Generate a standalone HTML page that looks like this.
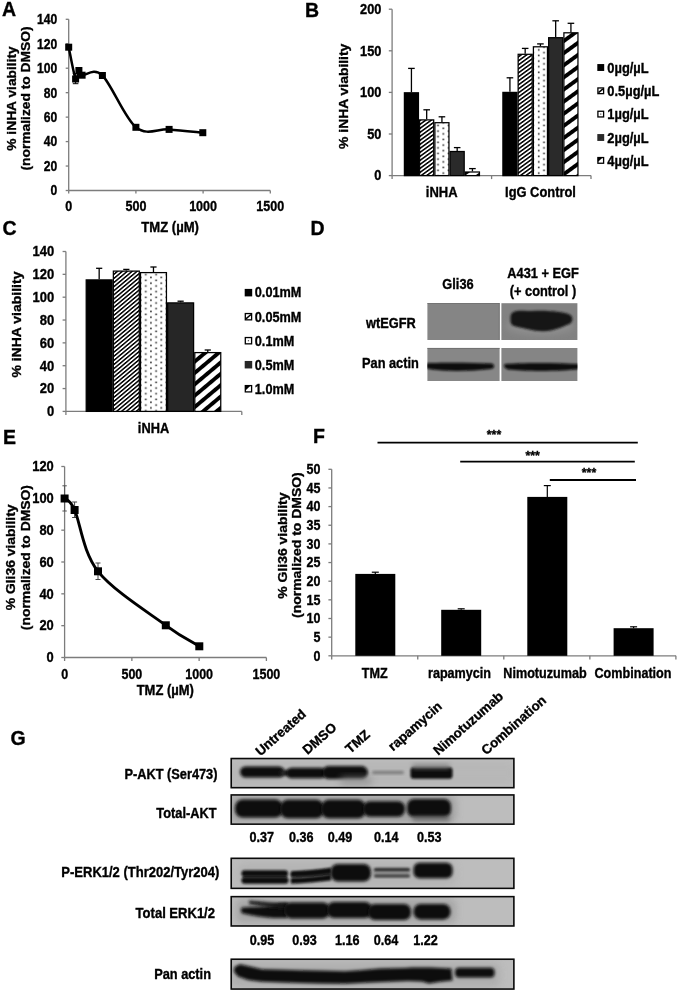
<!DOCTYPE html>
<html><head><meta charset="utf-8"><title>Figure</title>
<style>html,body{margin:0;padding:0;background:#fff}svg{display:block;opacity:0.999}</style>
</head><body>
<svg width="679" height="992" viewBox="0 0 679 992" font-family="Liberation Sans, sans-serif" font-weight="bold" fill="#000">
<style>text{stroke:#000;stroke-width:0.35px}</style>
<rect width="679" height="992" fill="#fff"/>
<defs>
<pattern id="fine" width="3.14" height="3.14" patternUnits="userSpaceOnUse" patternTransform="rotate(-40)">
<rect width="3.14" height="3.14" fill="#fff"/><rect y="0" width="3.14" height="1.5" fill="#000"/>
</pattern>
<pattern id="fineB" width="3.24" height="3.24" patternUnits="userSpaceOnUse" patternTransform="rotate(-36)">
<rect width="3.24" height="3.24" fill="#fff"/><rect y="0" width="3.24" height="1.55" fill="#000"/>
</pattern>
<pattern id="dots" width="10.3" height="5.67" patternUnits="userSpaceOnUse" x="0.3" y="1.2">
<rect width="10.3" height="5.67" fill="#fff"/><rect x="0.5" y="0.5" width="1.6" height="1.6" fill="#2e2e2e"/><rect x="5.65" y="3.33" width="1.6" height="1.6" fill="#2e2e2e"/>
</pattern>
<pattern id="dotsB" width="10.6" height="5.6" patternUnits="userSpaceOnUse" x="2.1" y="1.0">
<rect width="10.6" height="5.6" fill="#fff"/><rect x="0.5" y="0.5" width="1.6" height="1.6" fill="#2e2e2e"/><rect x="5.8" y="3.3" width="1.6" height="1.6" fill="#2e2e2e"/>
</pattern>
<pattern id="thick" width="8.7" height="8.7" patternUnits="userSpaceOnUse" patternTransform="rotate(-40)">
<rect width="8.7" height="8.7" fill="#fff"/><rect y="0" width="8.7" height="3.9" fill="#000"/>
</pattern>
<pattern id="thickB" width="9.8" height="9.8" patternUnits="userSpaceOnUse" patternTransform="rotate(-36)">
<rect width="9.8" height="9.8" fill="#fff"/><rect y="0" width="9.8" height="3.9" fill="#000"/>
</pattern>
<filter id="b1" x="-20%" y="-50%" width="140%" height="200%"><feGaussianBlur stdDeviation="1"/></filter>
<filter id="b15" x="-20%" y="-50%" width="140%" height="200%"><feGaussianBlur stdDeviation="1.5"/></filter>
<filter id="b2" x="-20%" y="-50%" width="140%" height="200%"><feGaussianBlur stdDeviation="2.2"/></filter>
<filter id="b3" x="-20%" y="-60%" width="140%" height="220%"><feGaussianBlur stdDeviation="3.5"/></filter>
</defs>
<text transform="translate(2.00 16.00) scale(0.93 1)" font-size="21.00" text-anchor="start" >A</text>
<text transform="translate(305.00 16.50) scale(0.93 1)" font-size="21.00" text-anchor="start" >B</text>
<text transform="translate(2.50 235.00) scale(0.93 1)" font-size="21.00" text-anchor="start" >C</text>
<text transform="translate(310.50 234.50) scale(0.93 1)" font-size="21.00" text-anchor="start" >D</text>
<text transform="translate(3.00 443.50) scale(0.93 1)" font-size="21.00" text-anchor="start" >E</text>
<text transform="translate(313.00 443.00) scale(0.93 1)" font-size="21.00" text-anchor="start" >F</text>
<text transform="translate(10.50 744.50) scale(0.93 1)" font-size="21.00" text-anchor="start" >G</text>
<line x1="68.70" y1="19.30" x2="68.70" y2="190.50" stroke="#7c7c7c" stroke-width="1.3" />
<line x1="68.70" y1="190.50" x2="270.30" y2="190.50" stroke="#7c7c7c" stroke-width="1.3" />
<line x1="65.70" y1="190.50" x2="68.70" y2="190.50" stroke="#7c7c7c" stroke-width="1.3" />
<text transform="translate(57.30 195.40) scale(0.88 1)" font-size="13.80" text-anchor="end" >0</text>
<line x1="65.70" y1="166.04" x2="68.70" y2="166.04" stroke="#7c7c7c" stroke-width="1.3" />
<text transform="translate(57.30 170.94) scale(0.88 1)" font-size="13.80" text-anchor="end" >20</text>
<line x1="65.70" y1="141.59" x2="68.70" y2="141.59" stroke="#7c7c7c" stroke-width="1.3" />
<text transform="translate(57.30 146.49) scale(0.88 1)" font-size="13.80" text-anchor="end" >40</text>
<line x1="65.70" y1="117.13" x2="68.70" y2="117.13" stroke="#7c7c7c" stroke-width="1.3" />
<text transform="translate(57.30 122.03) scale(0.88 1)" font-size="13.80" text-anchor="end" >60</text>
<line x1="65.70" y1="92.67" x2="68.70" y2="92.67" stroke="#7c7c7c" stroke-width="1.3" />
<text transform="translate(57.30 97.57) scale(0.88 1)" font-size="13.80" text-anchor="end" >80</text>
<line x1="65.70" y1="68.21" x2="68.70" y2="68.21" stroke="#7c7c7c" stroke-width="1.3" />
<text transform="translate(57.30 73.11) scale(0.88 1)" font-size="13.80" text-anchor="end" >100</text>
<line x1="65.70" y1="43.76" x2="68.70" y2="43.76" stroke="#7c7c7c" stroke-width="1.3" />
<text transform="translate(57.30 48.66) scale(0.88 1)" font-size="13.80" text-anchor="end" >120</text>
<line x1="65.70" y1="19.30" x2="68.70" y2="19.30" stroke="#7c7c7c" stroke-width="1.3" />
<text transform="translate(57.30 24.20) scale(0.88 1)" font-size="13.80" text-anchor="end" >140</text>
<line x1="68.70" y1="190.50" x2="68.70" y2="193.50" stroke="#7c7c7c" stroke-width="1.3" />
<text transform="translate(68.70 211.20) scale(0.91 1)" font-size="13.80" text-anchor="middle" >0</text>
<line x1="135.90" y1="190.50" x2="135.90" y2="193.50" stroke="#7c7c7c" stroke-width="1.3" />
<text transform="translate(135.90 211.20) scale(0.91 1)" font-size="13.80" text-anchor="middle" >500</text>
<line x1="203.10" y1="190.50" x2="203.10" y2="193.50" stroke="#7c7c7c" stroke-width="1.3" />
<text transform="translate(203.10 211.20) scale(0.91 1)" font-size="13.80" text-anchor="middle" >1000</text>
<line x1="270.30" y1="190.50" x2="270.30" y2="193.50" stroke="#7c7c7c" stroke-width="1.3" />
<text transform="translate(270.30 211.20) scale(0.91 1)" font-size="13.80" text-anchor="middle" >1500</text>
<text transform="translate(170.10 231.50) scale(0.95 1)" font-size="13.80" text-anchor="middle" >TMZ (µM)</text>
<text transform="translate(15.60 98.50) scale(0.86 1) rotate(-90)" font-size="13.80" text-anchor="middle" >% iNHA viability</text>
<text transform="translate(30.10 98.50) scale(0.86 1) rotate(-90)" font-size="13.80" text-anchor="middle" >(normalized to DMSO)</text>
<line x1="75.60" y1="73.60" x2="75.60" y2="83.70" stroke="#000" stroke-width="1" />
<line x1="72.80" y1="73.60" x2="78.40" y2="73.60" stroke="#000" stroke-width="1" />
<line x1="72.80" y1="83.70" x2="78.40" y2="83.70" stroke="#000" stroke-width="1" />
<path d="M68.70,47.20 C69.85,52.50 73.90,75.12 75.60,79.00 C77.30,82.88 77.82,71.13 78.90,70.50 C79.98,69.87 78.18,74.37 82.10,75.20 C86.02,76.03 93.43,66.82 102.40,75.50 C111.37,84.18 124.78,118.32 135.90,127.30 C147.02,136.28 157.95,128.50 169.10,129.40 C180.25,130.30 197.18,132.15 202.80,132.70" fill="none" stroke="#000" stroke-width="2.5" stroke-linejoin="round"/>
<rect x="65.20" y="43.70" width="7.00" height="7.00" fill="#000" />
<rect x="72.10" y="75.50" width="7.00" height="7.00" fill="#000" />
<rect x="75.40" y="67.00" width="7.00" height="7.00" fill="#000" />
<rect x="78.60" y="71.70" width="7.00" height="7.00" fill="#000" />
<rect x="98.90" y="72.00" width="7.00" height="7.00" fill="#000" />
<rect x="132.40" y="123.80" width="7.00" height="7.00" fill="#000" />
<rect x="165.60" y="125.90" width="7.00" height="7.00" fill="#000" />
<rect x="199.30" y="129.20" width="7.00" height="7.00" fill="#000" />
<line x1="392.10" y1="9.20" x2="392.10" y2="175.60" stroke="#7c7c7c" stroke-width="1.3" />
<line x1="392.10" y1="175.60" x2="591.00" y2="175.60" stroke="#7c7c7c" stroke-width="1.3" />
<line x1="388.80" y1="175.60" x2="392.10" y2="175.60" stroke="#7c7c7c" stroke-width="1.3" />
<text transform="translate(381.40 180.40) scale(0.93 1)" font-size="13.76" text-anchor="end" >0</text>
<line x1="388.80" y1="134.00" x2="392.10" y2="134.00" stroke="#7c7c7c" stroke-width="1.3" />
<text transform="translate(381.40 138.80) scale(0.93 1)" font-size="13.76" text-anchor="end" >50</text>
<line x1="388.80" y1="92.40" x2="392.10" y2="92.40" stroke="#7c7c7c" stroke-width="1.3" />
<text transform="translate(381.40 97.20) scale(0.93 1)" font-size="13.76" text-anchor="end" >100</text>
<line x1="388.80" y1="50.80" x2="392.10" y2="50.80" stroke="#7c7c7c" stroke-width="1.3" />
<text transform="translate(381.40 55.60) scale(0.93 1)" font-size="13.76" text-anchor="end" >150</text>
<line x1="388.80" y1="9.20" x2="392.10" y2="9.20" stroke="#7c7c7c" stroke-width="1.3" />
<text transform="translate(381.40 14.00) scale(0.93 1)" font-size="13.76" text-anchor="end" >200</text>
<line x1="392.10" y1="175.60" x2="392.10" y2="179.10" stroke="#7c7c7c" stroke-width="1.3" />
<line x1="491.60" y1="175.60" x2="491.60" y2="179.10" stroke="#7c7c7c" stroke-width="1.3" />
<line x1="591.00" y1="175.60" x2="591.00" y2="179.10" stroke="#7c7c7c" stroke-width="1.3" />
<rect x="404.40" y="92.80" width="14.05" height="82.80" fill="#000" stroke="#000" stroke-width="1.25" />
<line x1="411.43" y1="68.40" x2="411.43" y2="92.20" stroke="#000" stroke-width="1.3" />
<line x1="408.12" y1="68.40" x2="414.73" y2="68.40" stroke="#000" stroke-width="1.3" />
<rect x="419.65" y="119.90" width="14.05" height="55.70" fill="url(#fineB)" stroke="#000" stroke-width="1.25" />
<line x1="426.68" y1="109.80" x2="426.68" y2="119.30" stroke="#000" stroke-width="1.3" />
<line x1="423.38" y1="109.80" x2="429.98" y2="109.80" stroke="#000" stroke-width="1.3" />
<rect x="434.90" y="122.70" width="14.05" height="52.90" fill="url(#dotsB)" stroke="#000" stroke-width="1.25" />
<line x1="441.93" y1="116.80" x2="441.93" y2="122.10" stroke="#000" stroke-width="1.3" />
<line x1="438.62" y1="116.80" x2="445.23" y2="116.80" stroke="#000" stroke-width="1.3" />
<rect x="450.15" y="151.50" width="14.05" height="24.10" fill="#2a2a2a" stroke="#000" stroke-width="1.25" />
<line x1="457.18" y1="147.60" x2="457.18" y2="150.90" stroke="#000" stroke-width="1.3" />
<line x1="453.88" y1="147.60" x2="460.48" y2="147.60" stroke="#000" stroke-width="1.3" />
<rect x="465.40" y="172.00" width="14.05" height="3.60" fill="url(#thickB)" stroke="#000" stroke-width="1.25" />
<line x1="472.43" y1="168.60" x2="472.43" y2="171.40" stroke="#000" stroke-width="1.3" />
<line x1="469.12" y1="168.60" x2="475.73" y2="168.60" stroke="#000" stroke-width="1.3" />
<rect x="502.90" y="92.40" width="14.05" height="83.20" fill="#000" stroke="#000" stroke-width="1.25" />
<line x1="509.93" y1="77.80" x2="509.93" y2="91.80" stroke="#000" stroke-width="1.3" />
<line x1="506.62" y1="77.80" x2="513.23" y2="77.80" stroke="#000" stroke-width="1.3" />
<rect x="518.15" y="54.30" width="14.05" height="121.30" fill="url(#fineB)" stroke="#000" stroke-width="1.25" />
<line x1="525.17" y1="48.40" x2="525.17" y2="53.70" stroke="#000" stroke-width="1.3" />
<line x1="521.88" y1="48.40" x2="528.47" y2="48.40" stroke="#000" stroke-width="1.3" />
<rect x="533.40" y="46.80" width="14.05" height="128.80" fill="url(#dotsB)" stroke="#000" stroke-width="1.25" />
<line x1="540.42" y1="43.90" x2="540.42" y2="46.20" stroke="#000" stroke-width="1.3" />
<line x1="537.12" y1="43.90" x2="543.72" y2="43.90" stroke="#000" stroke-width="1.3" />
<rect x="548.65" y="37.70" width="14.05" height="137.90" fill="#2a2a2a" stroke="#000" stroke-width="1.25" />
<line x1="555.67" y1="20.80" x2="555.67" y2="37.10" stroke="#000" stroke-width="1.3" />
<line x1="552.38" y1="20.80" x2="558.97" y2="20.80" stroke="#000" stroke-width="1.3" />
<rect x="563.90" y="32.80" width="14.05" height="142.80" fill="url(#thickB)" stroke="#000" stroke-width="1.25" />
<line x1="570.92" y1="23.30" x2="570.92" y2="32.20" stroke="#000" stroke-width="1.3" />
<line x1="567.62" y1="23.30" x2="574.22" y2="23.30" stroke="#000" stroke-width="1.3" />
<text transform="translate(441.70 197.20) scale(0.91 1)" font-size="14.29" text-anchor="middle" >iNHA</text>
<text transform="translate(540.50 197.20) scale(0.91 1)" font-size="14.18" text-anchor="middle" >IgG Control</text>
<text transform="translate(348.20 96.30) scale(0.95 1) rotate(-90)" font-size="13.90" text-anchor="middle" >% iNHA viability</text>
<rect x="597.30" y="64.05" width="6.90" height="6.90" fill="#000" />
<text transform="translate(607.30 72.60) scale(0.9 1)" font-size="14.33" text-anchor="start" >0µg/µL</text>
<rect x="597.90" y="87.95" width="5.70" height="5.70" fill="#fff" stroke="#000" stroke-width="1.3" />
<line x1="598.50" y1="92.65" x2="603.00" y2="88.95" stroke="#000" stroke-width="1.5" />
<text transform="translate(607.30 95.90) scale(0.9 1)" font-size="14.33" text-anchor="start" >0.5µg/µL</text>
<rect x="597.90" y="111.25" width="5.70" height="5.70" fill="#fff" stroke="#000" stroke-width="1.3" />
<rect x="600.15" y="113.50" width="1.20" height="1.20" fill="#555" />
<text transform="translate(607.30 119.20) scale(0.9 1)" font-size="14.33" text-anchor="start" >1µg/µL</text>
<rect x="597.30" y="134.05" width="6.90" height="6.90" fill="#2a2a2a" />
<text transform="translate(607.30 142.60) scale(0.9 1)" font-size="14.33" text-anchor="start" >2µg/µL</text>
<rect x="597.90" y="157.55" width="5.70" height="5.70" fill="#fff" stroke="#000" stroke-width="1.3" />
<path d="M597.80,157.45 L602.70,157.45 L597.80,162.05 Z" fill="#000"/>
<text transform="translate(607.30 165.50) scale(0.9 1)" font-size="14.33" text-anchor="start" >4µg/µL</text>
<line x1="65.90" y1="251.50" x2="65.90" y2="411.40" stroke="#7c7c7c" stroke-width="1.3" />
<line x1="65.90" y1="411.40" x2="241.80" y2="411.40" stroke="#7c7c7c" stroke-width="1.3" />
<line x1="62.60" y1="411.40" x2="65.90" y2="411.40" stroke="#7c7c7c" stroke-width="1.3" />
<text transform="translate(54.30 416.20) scale(0.92 1)" font-size="14.13" text-anchor="end" >0</text>
<line x1="62.60" y1="388.56" x2="65.90" y2="388.56" stroke="#7c7c7c" stroke-width="1.3" />
<text transform="translate(54.30 393.36) scale(0.92 1)" font-size="14.13" text-anchor="end" >20</text>
<line x1="62.60" y1="365.71" x2="65.90" y2="365.71" stroke="#7c7c7c" stroke-width="1.3" />
<text transform="translate(54.30 370.51) scale(0.92 1)" font-size="14.13" text-anchor="end" >40</text>
<line x1="62.60" y1="342.87" x2="65.90" y2="342.87" stroke="#7c7c7c" stroke-width="1.3" />
<text transform="translate(54.30 347.67) scale(0.92 1)" font-size="14.13" text-anchor="end" >60</text>
<line x1="62.60" y1="320.03" x2="65.90" y2="320.03" stroke="#7c7c7c" stroke-width="1.3" />
<text transform="translate(54.30 324.83) scale(0.92 1)" font-size="14.13" text-anchor="end" >80</text>
<line x1="62.60" y1="297.19" x2="65.90" y2="297.19" stroke="#7c7c7c" stroke-width="1.3" />
<text transform="translate(54.30 301.99) scale(0.92 1)" font-size="14.13" text-anchor="end" >100</text>
<line x1="62.60" y1="274.34" x2="65.90" y2="274.34" stroke="#7c7c7c" stroke-width="1.3" />
<text transform="translate(54.30 279.14) scale(0.92 1)" font-size="14.13" text-anchor="end" >120</text>
<line x1="62.60" y1="251.50" x2="65.90" y2="251.50" stroke="#7c7c7c" stroke-width="1.3" />
<text transform="translate(54.30 256.30) scale(0.92 1)" font-size="14.13" text-anchor="end" >140</text>
<line x1="65.90" y1="411.40" x2="65.90" y2="415.10" stroke="#7c7c7c" stroke-width="1.3" />
<line x1="241.80" y1="411.40" x2="241.80" y2="415.10" stroke="#7c7c7c" stroke-width="1.3" />
<rect x="86.20" y="279.90" width="25.95" height="131.50" fill="#000" stroke="#000" stroke-width="1.25" />
<line x1="99.17" y1="268.30" x2="99.17" y2="279.30" stroke="#000" stroke-width="1.3" />
<line x1="96.08" y1="268.30" x2="102.27" y2="268.30" stroke="#000" stroke-width="1.3" />
<rect x="113.35" y="271.10" width="25.95" height="140.30" fill="url(#fine)" stroke="#000" stroke-width="1.25" />
<line x1="126.33" y1="269.40" x2="126.33" y2="270.50" stroke="#000" stroke-width="1.3" />
<line x1="123.23" y1="269.40" x2="129.43" y2="269.40" stroke="#000" stroke-width="1.3" />
<rect x="140.50" y="272.60" width="25.95" height="138.80" fill="url(#dots)" stroke="#000" stroke-width="1.25" />
<line x1="153.47" y1="267.00" x2="153.47" y2="272.00" stroke="#000" stroke-width="1.3" />
<line x1="150.37" y1="267.00" x2="156.57" y2="267.00" stroke="#000" stroke-width="1.3" />
<rect x="167.65" y="302.90" width="25.95" height="108.50" fill="#262626" stroke="#000" stroke-width="1.25" />
<line x1="180.62" y1="301.20" x2="180.62" y2="302.30" stroke="#000" stroke-width="1.3" />
<line x1="177.52" y1="301.20" x2="183.72" y2="301.20" stroke="#000" stroke-width="1.3" />
<rect x="194.80" y="352.60" width="25.95" height="58.80" fill="url(#thick)" stroke="#000" stroke-width="1.25" />
<line x1="207.77" y1="350.00" x2="207.77" y2="352.00" stroke="#000" stroke-width="1.3" />
<line x1="204.67" y1="350.00" x2="210.87" y2="350.00" stroke="#000" stroke-width="1.3" />
<text transform="translate(153.50 432.80) scale(0.91 1)" font-size="14.07" text-anchor="middle" >iNHA</text>
<text transform="translate(21.20 324.60) scale(0.96 1) rotate(-90)" font-size="14.00" text-anchor="middle" >% iNHA viability</text>
<rect x="244.70" y="288.90" width="7.50" height="7.50" fill="#000" />
<text transform="translate(254.80 297.45) scale(0.91 1)" font-size="13.96" text-anchor="start" >0.01mM</text>
<rect x="245.30" y="313.55" width="6.30" height="6.30" fill="#fff" stroke="#000" stroke-width="1.3" />
<line x1="245.90" y1="318.85" x2="251.00" y2="314.55" stroke="#000" stroke-width="1.5" />
<text transform="translate(254.80 321.50) scale(0.91 1)" font-size="13.96" text-anchor="start" >0.05mM</text>
<rect x="245.30" y="337.55" width="6.30" height="6.30" fill="#fff" stroke="#000" stroke-width="1.3" />
<rect x="247.85" y="340.10" width="1.20" height="1.20" fill="#555" />
<text transform="translate(254.80 345.50) scale(0.91 1)" font-size="13.96" text-anchor="start" >0.1mM</text>
<rect x="244.70" y="360.95" width="7.50" height="7.50" fill="#262626" />
<text transform="translate(254.80 369.50) scale(0.91 1)" font-size="13.96" text-anchor="start" >0.5mM</text>
<rect x="245.30" y="385.60" width="6.30" height="6.30" fill="#fff" stroke="#000" stroke-width="1.3" />
<path d="M245.20,385.50 L250.70,385.50 L245.20,390.70 Z" fill="#000"/>
<text transform="translate(254.80 393.55) scale(0.91 1)" font-size="13.96" text-anchor="start" >1.0mM</text>
<text transform="translate(458.00 289.30) scale(0.91 1)" font-size="14.07" text-anchor="middle" >Gli36</text>
<text transform="translate(543.00 278.00) scale(0.91 1)" font-size="14.07" text-anchor="middle" >A431 + EGF</text>
<text transform="translate(543.00 296.00) scale(0.91 1)" font-size="14.07" text-anchor="middle" >(+ control )</text>
<text transform="translate(366.00 327.80) scale(0.91 1)" font-size="14.07" text-anchor="start" >wtEGFR</text>
<text transform="translate(362.00 367.60) scale(0.91 1)" font-size="14.07" text-anchor="start" >Pan actin</text>
<g>
<rect x="427.40" y="303.20" width="72.20" height="36.80" fill="#858585" />
<rect x="501.40" y="303.20" width="76.00" height="36.80" fill="#828282" />
<line x1="427.40" y1="303.50" x2="499.60" y2="303.50" stroke="#6a6a6a" stroke-width="0.8" />
<line x1="499.30" y1="303.20" x2="499.30" y2="340.00" stroke="#666" stroke-width="0.7" />
<clipPath id="cD1"><rect x="501.4" y="303.2" width="76" height="36.8"/></clipPath>
<g clip-path="url(#cD1)"><ellipse cx="540" cy="326" rx="34" ry="9" fill="#9a9a9a" filter="url(#b3)" opacity="0.55"/><path d="M510.5,317 C510.5,311.5 516,310.3 524,310.8 C532,311.3 540,310.6 548,311 C556,311.3 564,312.3 569,314.3 C573.5,316.3 573.5,322 569.5,324 C564,326.2 560,328.2 552,330.2 C545,331.8 536,331.3 528,329.2 C522,327.6 515,327 512,325 C510,323 510.5,320 510.5,317 Z" fill="#161616" filter="url(#b1)"/></g>
</g>
<rect x="427.40" y="348.00" width="72.20" height="33.00" fill="#878787" />
<rect x="501.40" y="348.00" width="76.00" height="33.00" fill="#858585" />
<line x1="427.40" y1="348.40" x2="499.60" y2="348.40" stroke="#6a6a6a" stroke-width="0.8" />
<clipPath id="cD2"><rect x="427.4" y="348" width="72.2" height="33"/></clipPath>
<clipPath id="cD3"><rect x="501.4" y="348" width="76" height="33"/></clipPath>
<g clip-path="url(#cD2)"><path d="M424,363.5 C440,362.5 470,362.8 492,363.5 C495,365 495,368 491,369 C470,371.5 445,371.5 432,369.5 L424,368 Z" fill="#0a0a0a" filter="url(#b1)"/></g>
<g clip-path="url(#cD3)"><path d="M505,364 C520,362.5 555,362.5 580,364 L580,369 C560,371.5 525,371.5 508,369.5 C504,368 503,365.5 505,364 Z" fill="#0a0a0a" filter="url(#b1)"/></g>
<line x1="64.60" y1="466.50" x2="64.60" y2="657.50" stroke="#7c7c7c" stroke-width="1.3" />
<line x1="64.60" y1="657.50" x2="266.40" y2="657.50" stroke="#7c7c7c" stroke-width="1.3" />
<line x1="61.30" y1="657.50" x2="64.60" y2="657.50" stroke="#7c7c7c" stroke-width="1.3" />
<text transform="translate(53.80 662.30) scale(0.92 1)" font-size="14.02" text-anchor="end" >0</text>
<line x1="61.30" y1="625.67" x2="64.60" y2="625.67" stroke="#7c7c7c" stroke-width="1.3" />
<text transform="translate(53.80 630.47) scale(0.92 1)" font-size="14.02" text-anchor="end" >20</text>
<line x1="61.30" y1="593.83" x2="64.60" y2="593.83" stroke="#7c7c7c" stroke-width="1.3" />
<text transform="translate(53.80 598.63) scale(0.92 1)" font-size="14.02" text-anchor="end" >40</text>
<line x1="61.30" y1="562.00" x2="64.60" y2="562.00" stroke="#7c7c7c" stroke-width="1.3" />
<text transform="translate(53.80 566.80) scale(0.92 1)" font-size="14.02" text-anchor="end" >60</text>
<line x1="61.30" y1="530.17" x2="64.60" y2="530.17" stroke="#7c7c7c" stroke-width="1.3" />
<text transform="translate(53.80 534.97) scale(0.92 1)" font-size="14.02" text-anchor="end" >80</text>
<line x1="61.30" y1="498.33" x2="64.60" y2="498.33" stroke="#7c7c7c" stroke-width="1.3" />
<text transform="translate(53.80 503.13) scale(0.92 1)" font-size="14.02" text-anchor="end" >100</text>
<line x1="61.30" y1="466.50" x2="64.60" y2="466.50" stroke="#7c7c7c" stroke-width="1.3" />
<text transform="translate(53.80 471.30) scale(0.92 1)" font-size="14.02" text-anchor="end" >120</text>
<line x1="64.60" y1="657.50" x2="64.60" y2="661.00" stroke="#7c7c7c" stroke-width="1.3" />
<text transform="translate(64.60 679.40) scale(0.9 1)" font-size="13.89" text-anchor="middle" >0</text>
<line x1="131.87" y1="657.50" x2="131.87" y2="661.00" stroke="#7c7c7c" stroke-width="1.3" />
<text transform="translate(131.87 679.40) scale(0.9 1)" font-size="13.89" text-anchor="middle" >500</text>
<line x1="199.13" y1="657.50" x2="199.13" y2="661.00" stroke="#7c7c7c" stroke-width="1.3" />
<text transform="translate(199.13 679.40) scale(0.9 1)" font-size="13.89" text-anchor="middle" >1000</text>
<line x1="266.40" y1="657.50" x2="266.40" y2="661.00" stroke="#7c7c7c" stroke-width="1.3" />
<text transform="translate(266.40 679.40) scale(0.9 1)" font-size="13.89" text-anchor="middle" >1500</text>
<text transform="translate(165.30 695.10) scale(0.91 1)" font-size="14.29" text-anchor="middle" >TMZ (µM)</text>
<text transform="translate(14.60 557.40) scale(0.92 1) rotate(-90)" font-size="13.90" text-anchor="middle" >% Gli36 viability</text>
<text transform="translate(30.20 557.60) scale(0.92 1) rotate(-90)" font-size="13.90" text-anchor="middle" >(normalized to DMSO)</text>
<line x1="64.60" y1="485.80" x2="64.60" y2="511.00" stroke="#555" stroke-width="1" />
<line x1="62.40" y1="485.80" x2="66.80" y2="485.80" stroke="#555" stroke-width="1" />
<line x1="62.40" y1="511.00" x2="66.80" y2="511.00" stroke="#555" stroke-width="1" />
<line x1="74.60" y1="502.00" x2="74.60" y2="517.50" stroke="#444" stroke-width="1" />
<line x1="72.10" y1="502.00" x2="77.10" y2="502.00" stroke="#444" stroke-width="1" />
<line x1="72.10" y1="517.50" x2="77.10" y2="517.50" stroke="#444" stroke-width="1" />
<line x1="98.00" y1="563.00" x2="98.00" y2="579.50" stroke="#444" stroke-width="1" />
<line x1="95.50" y1="563.00" x2="100.50" y2="563.00" stroke="#444" stroke-width="1" />
<line x1="95.50" y1="579.50" x2="100.50" y2="579.50" stroke="#444" stroke-width="1" />
<path d="M64.60,498.50 C66.27,500.42 69.03,497.87 74.60,510.00 C80.17,522.13 82.80,552.08 98.00,571.30 C113.20,590.52 148.92,612.80 165.80,625.30 C182.68,637.80 193.72,642.80 199.30,646.30" fill="none" stroke="#000" stroke-width="2.9" stroke-linejoin="round"/>
<rect x="60.60" y="494.50" width="8.00" height="8.00" fill="#000" />
<rect x="70.60" y="506.00" width="8.00" height="8.00" fill="#000" />
<rect x="94.00" y="567.30" width="8.00" height="8.00" fill="#000" />
<rect x="161.80" y="621.30" width="8.00" height="8.00" fill="#000" />
<rect x="195.30" y="642.30" width="8.00" height="8.00" fill="#000" />
<line x1="331.70" y1="469.30" x2="331.70" y2="655.80" stroke="#7c7c7c" stroke-width="1.3" />
<line x1="331.70" y1="655.80" x2="676.00" y2="655.80" stroke="#7c7c7c" stroke-width="1.3" />
<line x1="328.40" y1="655.80" x2="331.70" y2="655.80" stroke="#7c7c7c" stroke-width="1.3" />
<text transform="translate(320.50 660.60) scale(0.9 1)" font-size="13.89" text-anchor="end" >0</text>
<line x1="328.40" y1="637.15" x2="331.70" y2="637.15" stroke="#7c7c7c" stroke-width="1.3" />
<text transform="translate(320.50 641.95) scale(0.9 1)" font-size="13.89" text-anchor="end" >5</text>
<line x1="328.40" y1="618.50" x2="331.70" y2="618.50" stroke="#7c7c7c" stroke-width="1.3" />
<text transform="translate(320.50 623.30) scale(0.9 1)" font-size="13.89" text-anchor="end" >10</text>
<line x1="328.40" y1="599.85" x2="331.70" y2="599.85" stroke="#7c7c7c" stroke-width="1.3" />
<text transform="translate(320.50 604.65) scale(0.9 1)" font-size="13.89" text-anchor="end" >15</text>
<line x1="328.40" y1="581.20" x2="331.70" y2="581.20" stroke="#7c7c7c" stroke-width="1.3" />
<text transform="translate(320.50 586.00) scale(0.9 1)" font-size="13.89" text-anchor="end" >20</text>
<line x1="328.40" y1="562.55" x2="331.70" y2="562.55" stroke="#7c7c7c" stroke-width="1.3" />
<text transform="translate(320.50 567.35) scale(0.9 1)" font-size="13.89" text-anchor="end" >25</text>
<line x1="328.40" y1="543.90" x2="331.70" y2="543.90" stroke="#7c7c7c" stroke-width="1.3" />
<text transform="translate(320.50 548.70) scale(0.9 1)" font-size="13.89" text-anchor="end" >30</text>
<line x1="328.40" y1="525.25" x2="331.70" y2="525.25" stroke="#7c7c7c" stroke-width="1.3" />
<text transform="translate(320.50 530.05) scale(0.9 1)" font-size="13.89" text-anchor="end" >35</text>
<line x1="328.40" y1="506.60" x2="331.70" y2="506.60" stroke="#7c7c7c" stroke-width="1.3" />
<text transform="translate(320.50 511.40) scale(0.9 1)" font-size="13.89" text-anchor="end" >40</text>
<line x1="328.40" y1="487.95" x2="331.70" y2="487.95" stroke="#7c7c7c" stroke-width="1.3" />
<text transform="translate(320.50 492.75) scale(0.9 1)" font-size="13.89" text-anchor="end" >45</text>
<line x1="328.40" y1="469.30" x2="331.70" y2="469.30" stroke="#7c7c7c" stroke-width="1.3" />
<text transform="translate(320.50 474.10) scale(0.9 1)" font-size="13.89" text-anchor="end" >50</text>
<line x1="331.70" y1="655.80" x2="331.70" y2="659.50" stroke="#7c7c7c" stroke-width="1.3" />
<line x1="417.75" y1="655.80" x2="417.75" y2="659.50" stroke="#7c7c7c" stroke-width="1.3" />
<line x1="503.80" y1="655.80" x2="503.80" y2="659.50" stroke="#7c7c7c" stroke-width="1.3" />
<line x1="589.85" y1="655.80" x2="589.85" y2="659.50" stroke="#7c7c7c" stroke-width="1.3" />
<line x1="675.90" y1="655.80" x2="675.90" y2="659.50" stroke="#7c7c7c" stroke-width="1.3" />
<rect x="355.30" y="573.90" width="40.00" height="81.90" fill="#000" />
<line x1="375.30" y1="572.20" x2="375.30" y2="573.90" stroke="#000" stroke-width="1.2" />
<line x1="371.80" y1="572.20" x2="378.80" y2="572.20" stroke="#000" stroke-width="1.2" />
<rect x="441.20" y="609.80" width="40.00" height="46.00" fill="#000" />
<line x1="461.20" y1="608.80" x2="461.20" y2="609.80" stroke="#000" stroke-width="1.2" />
<line x1="457.70" y1="608.80" x2="464.70" y2="608.80" stroke="#000" stroke-width="1.2" />
<rect x="527.30" y="496.90" width="40.00" height="158.90" fill="#000" />
<line x1="547.30" y1="485.60" x2="547.30" y2="496.90" stroke="#000" stroke-width="1.2" />
<line x1="543.80" y1="485.60" x2="550.80" y2="485.60" stroke="#000" stroke-width="1.2" />
<rect x="613.60" y="628.20" width="40.00" height="27.60" fill="#000" />
<line x1="633.60" y1="626.80" x2="633.60" y2="628.20" stroke="#000" stroke-width="1.2" />
<line x1="630.10" y1="626.80" x2="637.10" y2="626.80" stroke="#000" stroke-width="1.2" />
<text transform="translate(374.80 677.80) scale(0.91 1)" font-size="13.85" text-anchor="middle" >TMZ</text>
<text transform="translate(459.50 677.80) scale(0.91 1)" font-size="13.85" text-anchor="middle" >rapamycin</text>
<text transform="translate(545.00 677.80) scale(0.91 1)" font-size="13.85" text-anchor="middle" >Nimotuzumab</text>
<text transform="translate(633.00 677.80) scale(0.91 1)" font-size="13.85" text-anchor="middle" >Combination</text>
<text transform="translate(286.80 545.60) scale(0.91 1) rotate(-90)" font-size="13.95" text-anchor="middle" >% Gli36 viability</text>
<text transform="translate(301.40 545.10) scale(0.91 1) rotate(-90)" font-size="13.95" text-anchor="middle" >(normalized to DMSO)</text>
<line x1="377.50" y1="442.70" x2="637.80" y2="442.70" stroke="#000" stroke-width="1.8" />
<line x1="460.20" y1="461.70" x2="634.80" y2="461.70" stroke="#000" stroke-width="1.8" />
<line x1="549.80" y1="480.00" x2="636.00" y2="480.00" stroke="#000" stroke-width="1.8" />
<text transform="translate(494.00 438.50) scale(0.91 1)" font-size="13.52" text-anchor="middle" >***</text>
<text transform="translate(532.60 459.50) scale(0.91 1)" font-size="13.52" text-anchor="middle" >***</text>
<text transform="translate(589.00 477.20) scale(0.91 1)" font-size="13.52" text-anchor="middle" >***</text>
<text transform="translate(260.40 756.40) scale(1.0 1) rotate(-41.5)" font-size="13.30" text-anchor="start" >Untreated</text>
<text transform="translate(307.60 755.10) scale(1.0 1) rotate(-41.5)" font-size="13.30" text-anchor="start" >DMSO</text>
<text transform="translate(350.30 753.90) scale(1.0 1) rotate(-41.5)" font-size="13.30" text-anchor="start" >TMZ</text>
<text transform="translate(393.00 751.60) scale(1.0 1) rotate(-41.5)" font-size="13.30" text-anchor="start" >rapamycin</text>
<text transform="translate(438.20 755.80) scale(1.0 1) rotate(-41.5)" font-size="13.30" text-anchor="start" >Nimotuzumab</text>
<text transform="translate(486.20 755.40) scale(1.0 1) rotate(-41.5)" font-size="13.30" text-anchor="start" >Combination</text>
<text transform="translate(217.50 778.80) scale(0.91 1)" font-size="14.07" text-anchor="end" >P-AKT (Ser473)</text>
<text transform="translate(216.50 817.80) scale(0.91 1)" font-size="14.07" text-anchor="end" >Total-AKT</text>
<text transform="translate(219.30 877.20) scale(0.91 1)" font-size="14.29" text-anchor="end" >P-ERK1/2 (Thr202/Tyr204)</text>
<text transform="translate(215.00 917.80) scale(0.91 1)" font-size="14.34" text-anchor="end" >Total ERK1/2</text>
<text transform="translate(211.00 978.60) scale(0.91 1)" font-size="14.07" text-anchor="end" >Pan actin</text>
<text transform="translate(261.80 842.20) scale(0.91 1)" font-size="13.85" text-anchor="middle" >0.37</text>
<text transform="translate(301.30 842.20) scale(0.91 1)" font-size="13.85" text-anchor="middle" >0.36</text>
<text transform="translate(340.00 842.20) scale(0.91 1)" font-size="13.85" text-anchor="middle" >0.49</text>
<text transform="translate(386.30 842.20) scale(0.91 1)" font-size="13.85" text-anchor="middle" >0.14</text>
<text transform="translate(429.30 842.20) scale(0.91 1)" font-size="13.85" text-anchor="middle" >0.53</text>
<text transform="translate(262.00 945.20) scale(0.91 1)" font-size="13.85" text-anchor="middle" >0.95</text>
<text transform="translate(304.40 945.20) scale(0.91 1)" font-size="13.85" text-anchor="middle" >0.93</text>
<text transform="translate(347.20 945.20) scale(0.91 1)" font-size="13.85" text-anchor="middle" >1.16</text>
<text transform="translate(386.00 945.20) scale(0.91 1)" font-size="13.85" text-anchor="middle" >0.64</text>
<text transform="translate(425.50 945.20) scale(0.91 1)" font-size="13.85" text-anchor="middle" >1.22</text>
<clipPath id="cg1"><rect x="230.5" y="757.8" width="284.10" height="30.60"/></clipPath>
<rect x="230.50" y="757.80" width="284.10" height="30.60" fill="#bdbdbd" />
<g clip-path="url(#cg1)">
<rect x="231.0" y="762.0" width="284.0" height="22.0" rx="4.0" ry="4.0" fill="#b4b4b4" filter="url(#b3)" opacity="0.6"/>
<rect x="240.0" y="766.5" width="44.5" height="11.0" rx="5.5" ry="5.5" fill="#0d0d0d" filter="url(#b15)" opacity="1"/>
<rect x="280.0" y="770.0" width="12.0" height="6.0" rx="3.0" ry="3.0" fill="#222" filter="url(#b15)" opacity="1"/>
<rect x="286.5" y="767.8" width="39.5" height="10.5" rx="5.2" ry="5.2" fill="#0d0d0d" filter="url(#b15)" opacity="1"/>
<rect x="322.0" y="766.0" width="46.0" height="13.0" rx="6.5" ry="6.5" fill="#080808" filter="url(#b15)" opacity="1"/>
<rect x="340.0" y="777.0" width="32.0" height="8.0" rx="4.0" ry="4.0" fill="#8a8a8a" filter="url(#b3)" opacity="0.7"/>
<rect x="372.0" y="770.9" width="32.0" height="3.2" rx="1.6" ry="1.6" fill="#6e6e6e" filter="url(#b15)" opacity="0.9"/>
<rect x="410.5" y="767.2" width="42.0" height="11.5" rx="3.0" ry="3.0" fill="#0b0b0b" filter="url(#b1)" opacity="1"/>
<rect x="412.0" y="764.0" width="38.0" height="5.0" rx="2.5" ry="2.5" fill="#777" filter="url(#b2)" opacity="0.7"/>
</g>
<rect x="231.25" y="758.55" width="282.60" height="29.10" fill="none" stroke="#0a0a0a" stroke-width="1.55" />
<clipPath id="cg2"><rect x="230.5" y="794.2" width="284.10" height="30.70"/></clipPath>
<rect x="230.50" y="794.20" width="284.10" height="30.70" fill="#bdbdbd" />
<g clip-path="url(#cg2)">
<rect x="231.0" y="796.0" width="225.0" height="26.0" rx="6.0" ry="6.0" fill="#9a9a9a" filter="url(#b3)" opacity="0.8"/>
<rect x="235.0" y="799.5" width="48.0" height="18.0" rx="8.0" ry="8.0" fill="#0a0a0a" filter="url(#b15)" opacity="1"/>
<rect x="280.0" y="799.8" width="44.0" height="18.5" rx="8.0" ry="8.0" fill="#0a0a0a" filter="url(#b15)" opacity="1"/>
<rect x="321.0" y="799.8" width="45.0" height="18.5" rx="8.0" ry="8.0" fill="#0a0a0a" filter="url(#b15)" opacity="1"/>
<rect x="363.0" y="801.2" width="42.0" height="15.5" rx="7.0" ry="7.0" fill="#0d0d0d" filter="url(#b15)" opacity="1"/>
<rect x="407.0" y="799.0" width="44.0" height="18.0" rx="7.0" ry="7.0" fill="#0b0b0b" filter="url(#b15)" opacity="1"/>
<rect x="412.0" y="816.0" width="38.0" height="5.0" rx="2.5" ry="2.5" fill="#555" filter="url(#b2)" opacity="0.7"/>
</g>
<rect x="231.25" y="794.95" width="282.60" height="29.20" fill="none" stroke="#0a0a0a" stroke-width="1.55" />
<clipPath id="cg3"><rect x="230.5" y="857.6" width="284.10" height="31.50"/></clipPath>
<rect x="230.50" y="857.60" width="284.10" height="31.50" fill="#bdbdbd" />
<g clip-path="url(#cg3)">
<rect x="238.0" y="863.0" width="218.0" height="22.0" rx="6.0" ry="6.0" fill="#b0b0b0" filter="url(#b3)" opacity="0.7"/>
<rect x="243.0" y="874.5" width="44.0" height="5.0" rx="2.0" ry="2.0" fill="#4a4a4a" filter="url(#b1)" opacity="1"/>
<rect x="241.5" y="870.3" width="46.5" height="6.2" rx="3.1" ry="3.1" fill="#0d0d0d" filter="url(#b1)" opacity="1"/>
<rect x="241.5" y="877.2" width="47.0" height="6.6" rx="3.3" ry="3.3" fill="#0d0d0d" filter="url(#b1)" opacity="1"/>
<path d="M292.5,872.2 C305,872.2 318,871 330,869.2 L330,875.2 C318,877 305,877.4 292.5,877.6 C291,876 291,874 292.5,872.2 Z" fill="#3c3c3c" filter="url(#b1)" opacity="1"/>
<path d="M291.5,871.2 C305,871 318,869.6 331,867.8 L331,873.6 C318,875.4 305,876.4 291.5,876.8 C290.3,875 290.3,873 291.5,871.2 Z" fill="#0d0d0d" filter="url(#b1)" opacity="1"/>
<path d="M291.5,877.8 C305,877.6 318,876.2 331,874.2 L331,880.6 C318,882.2 305,883.2 291.5,883.8 C290.3,882 290.3,880 291.5,877.8 Z" fill="#0d0d0d" filter="url(#b1)" opacity="1"/>
<rect x="330.5" y="863.9" width="40.5" height="17.6" rx="7.5" ry="7.5" fill="#080808" filter="url(#b15)" opacity="1"/>
<rect x="373.0" y="868.6" width="37.0" height="8.0" rx="3.0" ry="3.0" fill="#8a8a8a" filter="url(#b15)" opacity="0.8"/>
<rect x="374.0" y="868.0" width="36.0" height="3.3" rx="1.6" ry="1.6" fill="#2c2c2c" filter="url(#b1)" opacity="0.95"/>
<rect x="374.0" y="874.5" width="36.0" height="3.0" rx="1.5" ry="1.5" fill="#3a3a3a" filter="url(#b1)" opacity="0.95"/>
<rect x="413.5" y="862.8" width="39.0" height="15.5" rx="6.0" ry="6.0" fill="#090909" filter="url(#b15)" opacity="1"/>
</g>
<rect x="231.25" y="858.35" width="282.60" height="30.00" fill="none" stroke="#0a0a0a" stroke-width="1.55" />
<clipPath id="cg4"><rect x="230.5" y="895.9" width="284.10" height="30.80"/></clipPath>
<rect x="230.50" y="895.90" width="284.10" height="30.80" fill="#bdbdbd" />
<g clip-path="url(#cg4)">
<rect x="236.0" y="899.0" width="220.0" height="24.0" rx="6.0" ry="6.0" fill="#a0a0a0" filter="url(#b3)" opacity="0.8"/>
<path d="M242,907.5 C250,906.5 262,907.5 272,905.5 C278,904 283,903 287,902.8 L287,918 C272,918.6 256,916.5 242,913.2 C240.5,911.5 240.5,909 242,907.5 Z" fill="#0c0c0c" filter="url(#b15)" opacity="1"/>
<path d="M249,900.5 C262,901.5 276,903 288,903.2 L288,909 C274,908.5 260,906 249,904 Z" fill="#141414" filter="url(#b15)" opacity="0.95"/>
<rect x="284.0" y="902.4" width="46.0" height="16.0" rx="7.0" ry="7.0" fill="#0b0b0b" filter="url(#b15)" opacity="1"/>
<rect x="327.0" y="902.0" width="45.0" height="16.0" rx="7.0" ry="7.0" fill="#0b0b0b" filter="url(#b15)" opacity="1"/>
<rect x="368.0" y="904.0" width="43.0" height="16.0" rx="7.0" ry="7.0" fill="#0d0d0d" filter="url(#b15)" opacity="1"/>
<rect x="413.5" y="903.9" width="37.0" height="15.5" rx="7.0" ry="7.0" fill="#0d0d0d" filter="url(#b15)" opacity="1"/>
</g>
<rect x="231.25" y="896.65" width="282.60" height="29.30" fill="none" stroke="#0a0a0a" stroke-width="1.55" />
<clipPath id="cg5"><rect x="230.5" y="958.5" width="284.10" height="31.30"/></clipPath>
<rect x="230.50" y="958.50" width="284.10" height="31.30" fill="#bdbdbd" />
<g clip-path="url(#cg5)">
<rect x="231.0" y="963.0" width="269.0" height="24.0" rx="6.0" ry="6.0" fill="#a8a8a8" filter="url(#b3)" opacity="0.7"/>
<path d="M234.5,967 L240,964.2 L250,966.5 L262,969.3 L283,969.8 L300,970.3 L325,970.8 L345,971.3 L360,970.3 L380,968.6 L405,968 L412,967.6 L430,967.6 L451.5,968.6 L452.5,980.5 L440,981.8 L429,983.6 L422,981.4 L408,981 L395,981.5 L370,982.5 L345,983.8 L320,983.4 L300,983 L283,982.4 L262,981.8 L248,980 L238,976.5 L233.8,971.5 Z" fill="#0a0a0a" filter="url(#b15)" opacity="1"/>
<rect x="455.0" y="967.8" width="39.5" height="9.6" rx="4.0" ry="4.0" fill="#0c0c0c" filter="url(#b15)" opacity="1"/>
</g>
<rect x="231.25" y="959.25" width="282.60" height="29.80" fill="none" stroke="#0a0a0a" stroke-width="1.55" />
</svg>
</body></html>
